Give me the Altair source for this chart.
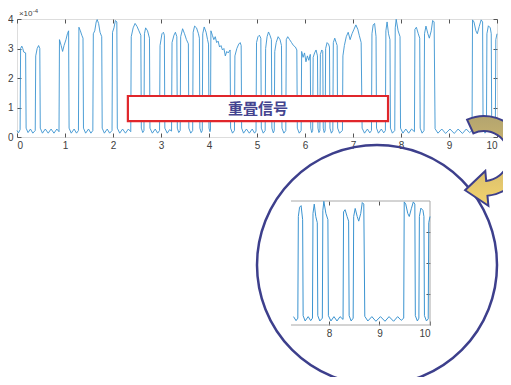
import altair as alt
import pandas as pd

# ---------------- data (signal in units of 1e-4) ----------------
trace_t = [
    0.00, 0.03, 0.065,
    0.075, 0.10, 0.12, 0.14, 0.18,
    0.19, 0.23, 0.28, 0.33, 0.38,
    0.39, 0.42, 0.45, 0.475,
    0.485, 0.53, 0.59, 0.65, 0.71, 0.77, 0.83, 0.875,
    0.885, 0.92, 0.95, 0.98, 1.02, 1.05, 1.075,
    1.085, 1.13, 1.19, 1.24, 1.28,
    1.29, 1.32, 1.35, 1.375,
    1.385, 1.43, 1.49, 1.54, 1.58,
    1.59, 1.62, 1.65, 1.67, 1.70, 1.73, 1.765,
    1.775, 1.82, 1.88, 1.93, 1.98,
    1.99, 2.02, 2.05, 2.08,
    2.09, 2.14, 2.20, 2.26, 2.32, 2.37,
    2.38, 2.42, 2.46, 2.50, 2.54, 2.58,
    2.59, 2.62, 2.645,
    2.655, 2.68, 2.72, 2.76,
    2.77, 2.82, 2.88, 2.93, 2.97,
    2.98, 3.02, 3.05, 3.07,
    3.08, 3.13, 3.18, 3.22,
    3.23, 3.27, 3.30, 3.33,
    3.34, 3.37, 3.40,
    3.41, 3.45, 3.49, 3.53, 3.57,
    3.58, 3.62, 3.66,
    3.67, 3.70, 3.74, 3.78, 3.80,
    3.81, 3.84, 3.86,
    3.87, 3.90, 3.94, 3.97, 3.99,
    4.00, 4.02, 4.03,
    4.04, 4.07, 4.10, 4.13, 4.16, 4.19, 4.22, 4.25, 4.28, 4.31, 4.34, 4.37, 4.40, 4.44,
    4.45, 4.49, 4.53,
    4.54, 4.58, 4.62, 4.65, 4.67,
    4.68, 4.72, 4.78, 4.84, 4.90, 4.95, 4.98,
    4.99, 5.02, 5.05, 5.08,
    5.09, 5.13, 5.17,
    5.18, 5.21, 5.24, 5.27, 5.30,
    5.31, 5.34, 5.36,
    5.37, 5.40, 5.44, 5.48, 5.51,
    5.52, 5.56, 5.60,
    5.61, 5.64, 5.68, 5.72, 5.76, 5.80, 5.83,
    5.84, 5.88, 5.92,
    5.93, 5.96, 5.99, 6.02, 6.05, 6.08, 6.11,
    6.12, 6.14, 6.16,
    6.17, 6.20, 6.23, 6.26,
    6.27, 6.29, 6.31,
    6.32, 6.35, 6.37,
    6.38, 6.40, 6.42,
    6.43, 6.46, 6.49, 6.51,
    6.52, 6.55, 6.58,
    6.59, 6.62, 6.65, 6.67,
    6.68, 6.72, 6.78,
    6.79, 6.82, 6.86, 6.90, 6.94, 6.98, 7.02, 7.06, 7.10, 7.13, 7.17,
    7.19, 7.24, 7.30, 7.35, 7.385,
    7.395, 7.42, 7.45, 7.48,
    7.49, 7.53, 7.59, 7.64, 7.675,
    7.685, 7.71, 7.74, 7.77,
    7.78, 7.82, 7.87,
    7.88, 7.90, 7.94, 7.98,
    7.99, 8.04, 8.10, 8.16, 8.22, 8.28,
    8.29, 8.32, 8.36, 8.39,
    8.40, 8.44, 8.48,
    8.49, 8.52, 8.56, 8.59, 8.63, 8.66, 8.69,
    8.71, 8.77, 8.85, 8.93, 9.02, 9.11, 9.19, 9.28, 9.36, 9.43, 9.48,
    9.49, 9.52, 9.56, 9.59, 9.63, 9.67, 9.70,
    9.71, 9.75, 9.78,
    9.79, 9.82, 9.86, 9.88,
    9.89, 9.93, 9.965,
    9.975, 10.0,
]
trace_v = [
    0.22, 0.14, 0.25,
    3.00, 3.08, 3.00, 2.88, 2.85,
    0.30, 0.15, 0.27, 0.13, 0.22,
    2.75, 3.00, 3.10, 3.00,
    0.30, 0.13, 0.27, 0.13, 0.27, 0.13, 0.27, 0.18,
    3.30, 3.10, 2.90, 3.10, 3.30, 3.50, 3.60,
    0.30, 0.13, 0.27, 0.13, 0.22,
    3.72, 3.60, 3.45, 3.35,
    0.30, 0.13, 0.27, 0.13, 0.22,
    3.50, 3.60, 3.90, 3.98, 3.85, 3.55, 3.40,
    0.30, 0.13, 0.27, 0.13, 0.22,
    3.55, 3.70, 3.95, 3.90,
    0.30, 0.13, 0.27, 0.13, 0.27, 0.18,
    3.40, 3.70, 3.85, 3.75, 3.60, 3.45,
    0.30, 0.15, 0.22,
    3.50, 3.70, 3.60, 3.35,
    0.30, 0.13, 0.27, 0.13, 0.22,
    3.10, 3.50, 3.55, 3.45,
    0.30, 0.13, 0.25, 0.20,
    3.20, 3.45, 3.55, 3.40,
    0.30, 0.15, 0.22,
    3.40, 3.67, 3.50, 3.30, 3.16,
    0.30, 0.13, 0.22,
    3.55, 3.76, 3.70, 3.50, 3.35,
    0.30, 0.15, 0.22,
    3.50, 3.73, 3.55, 3.30, 3.15,
    0.30, 0.18, 0.22,
    3.60, 3.45, 3.30, 3.40, 3.20, 3.25, 3.05, 3.10, 2.95, 3.00, 2.75, 2.90, 2.85, 2.95,
    0.30, 0.13, 0.22,
    2.75, 3.00, 3.15, 3.20, 3.10,
    0.30, 0.13, 0.27, 0.13, 0.27, 0.13, 0.20,
    3.20, 3.40, 3.45, 3.35,
    0.30, 0.13, 0.22,
    3.00, 3.40, 3.56, 3.45, 3.30,
    0.30, 0.14, 0.22,
    2.90, 3.20, 3.40, 3.30, 3.10,
    0.30, 0.13, 0.22,
    3.30, 3.40, 3.30, 3.20, 3.10, 3.05, 2.95,
    0.30, 0.13, 0.22,
    2.90, 2.70, 2.85, 2.55, 2.75, 2.60, 2.80,
    0.30, 0.15, 0.22,
    2.70, 2.85, 2.95, 2.75,
    0.30, 0.15, 0.22,
    2.80, 2.95, 2.90,
    0.30, 0.15, 0.22,
    3.00, 3.20, 3.15, 3.05,
    0.30, 0.13, 0.22,
    3.20, 3.35, 3.20, 3.10,
    0.30, 0.13, 0.22,
    2.75, 3.10, 3.40, 3.55, 3.30, 3.50, 3.65, 3.80, 3.65, 3.45, 3.20,
    0.30, 0.13, 0.27, 0.14, 0.22,
    3.50, 3.80, 3.85, 3.40,
    0.30, 0.13, 0.27, 0.14, 0.22,
    3.60, 3.90, 3.50, 3.30,
    0.30, 0.13, 0.22,
    3.70, 3.99, 3.60, 3.40,
    0.30, 0.13, 0.27, 0.13, 0.27, 0.18,
    3.65, 3.72, 3.50, 3.35,
    0.30, 0.13, 0.22,
    3.50, 3.76, 3.50, 3.35, 3.60, 3.95, 3.90,
    0.28, 0.13, 0.27, 0.12, 0.27, 0.12, 0.27, 0.12, 0.27, 0.15, 0.22,
    3.97, 3.90, 3.60, 3.50, 3.75, 3.97, 3.90,
    0.30, 0.13, 0.22,
    3.50, 3.77, 3.70, 3.50,
    0.30, 0.13, 0.20,
    3.30, 3.50,
]

x_ticks = [0, 1, 2, 3, 4, 5, 6, 7, 8, 9, 10]
y_ticks = [0, 1, 2, 3, 4]
inset_x_ticks = [8, 9, 10]
inset_top_ticks = [8, 9]
inset_y_ticks = [1, 2, 3]
inset_domain = [7.25, 10]

label_text = ["重畳信号"]
exponent_base = ["×10"]
exponent_power = ["-4"]

# annotation anchors, in data units of the main axes
box_corners = {"x0": [2.31], "x1": [7.73], "y0": [0.54], "y1": [1.39]}
label_anchor = {"x": [5.02], "y": [0.965]}
circle_anchor = {"x": [7.5], "y": [-4.339]}
arrow_anchor = {"x": [9.729], "y": [-0.78]}
exponent_anchor = {"base_x": [0.04], "power_x": [0.33], "y": [4]}

# ---------------- styling ----------------
W, H = 480, 118
LINE = "#3a93d0"
FRAME = "#a8a8a8"
NAVY = "#3d3f8c"
FONT = "Liberation Sans"

df = pd.DataFrame({"t": trace_t, "v": trace_v})
main_x = alt.Scale(domain=[0, 10], nice=False, zero=False)
main_y = alt.Scale(domain=[0, 4], nice=False)
inset_x = alt.Scale(domain=inset_domain, range=[274, 413], nice=False, zero=False)
inset_y = alt.Scale(domain=[0, 4], range=[306, 182], nice=False)

tick_common = dict(tickSize=4, domain=False, grid=False, tickColor="#555555",
                   labelFont=FONT, labelFontSize=10, labelColor="#404040", title=None)

main_line = alt.Chart(df).mark_line(color=LINE, strokeWidth=0.9).encode(
    x=alt.X("t:Q", scale=main_x,
            axis=alt.Axis(values=x_ticks, orient="bottom", offset=-4, labelPadding=3, **tick_common)),
    y=alt.Y("v:Q", scale=main_y,
            axis=alt.Axis(values=y_ticks, orient="left", offset=-4, labelPadding=4, **tick_common)),
)

dummy = pd.DataFrame({"t": [0, 10], "v": [0, 4]})
main_ticks2 = alt.Chart(dummy).mark_point(opacity=0).encode(
    x=alt.X("t:Q", scale=main_x,
            axis=alt.Axis(values=x_ticks, orient="top", offset=-4, labels=False, **tick_common)),
    y=alt.Y("v:Q", scale=main_y,
            axis=alt.Axis(values=y_ticks, orient="right", offset=-4, labels=False, **tick_common)),
)

exp_df = pd.DataFrame({**exponent_anchor, "b": exponent_base, "p": exponent_power})
exp_base = alt.Chart(exp_df).mark_text(
    align="left", baseline="bottom", dy=-1, font=FONT, fontSize=8, color="#404040"
).encode(x=alt.X("base_x:Q", scale=main_x, axis=None), y=alt.Y("y:Q", scale=main_y, axis=None), text="b:N")
exp_pow = alt.Chart(exp_df).mark_text(
    align="left", baseline="bottom", dy=-5, font=FONT, fontSize=6, color="#404040"
).encode(x=alt.X("power_x:Q", scale=main_x, axis=None), y=alt.Y("y:Q", scale=main_y, axis=None), text="p:N")

box = alt.Chart(pd.DataFrame(box_corners)).mark_rect(
    fill="white", stroke="#e0262b", strokeWidth=2.2
).encode(
    x=alt.X("x0:Q", scale=main_x, axis=None), x2="x1:Q",
    y=alt.Y("y0:Q", scale=main_y, axis=None), y2="y1:Q",
)
label = alt.Chart(pd.DataFrame({**label_anchor, "s": label_text})).mark_text(
    font="Noto Sans CJK JP", fontSize=15, fontWeight="bold", color="#44448f",
    align="center", baseline="middle"
).encode(x=alt.X("x:Q", scale=main_x, axis=None), y=alt.Y("y:Q", scale=main_y, axis=None), text="s:N")

circle = alt.Chart(pd.DataFrame(circle_anchor)).mark_point(
    shape="circle", size=57600, filled=False, stroke=NAVY, strokeWidth=2.5, opacity=1
).encode(x=alt.X("x:Q", scale=main_x, axis=None), y=alt.Y("y:Q", scale=main_y, axis=None))

arrow_path = ("M -0.338 -0.806 A 0.8 0.8 0 1 1 0.07 0.716 L 0.088 0.914 L -0.378 0.604 "
              "L 0.026 0.22 L 0.044 0.418 A 0.5 0.5 0 1 0 -0.212 -0.534 Z")
arrow = alt.Chart(pd.DataFrame(arrow_anchor)).mark_point(
    shape=arrow_path, size=10000, filled=True, opacity=1,
    fill=alt.Gradient(gradient="linear", x1=0, x2=0, y1=0, y2=1,
                      stops=[alt.GradientStop(color="#b3a46f", offset=0),
                             alt.GradientStop(color="#f4d36d", offset=1)]),
    stroke=NAVY, strokeWidth=2,
).encode(x=alt.X("x:Q", scale=main_x, axis=None), y=alt.Y("y:Q", scale=main_y, axis=None))

frame_df = pd.DataFrame({"x0": [7.25, 7.25, 10], "x1": [10, 10, 10], "y0": [4, 0, 0], "y1": [4, 0, 4]})
inset_frame = alt.Chart(frame_df).mark_rule(color=FRAME, strokeWidth=1).encode(
    x=alt.X("x0:Q", scale=inset_x, axis=None), x2="x1:Q",
    y=alt.Y("y0:Q", scale=inset_y, axis=None), y2="y1:Q",
)

inset_line = alt.Chart(df).transform_filter(alt.datum.t >= inset_domain[0]).mark_line(
    color=LINE, strokeWidth=1
).encode(
    x=alt.X("t:Q", scale=inset_x,
            axis=alt.Axis(values=inset_x_ticks, orient="bottom", offset=184, labelPadding=3, **tick_common)),
    y=alt.Y("v:Q", scale=inset_y,
            axis=alt.Axis(values=inset_y_ticks, orient="right", offset=-71, labels=False, **tick_common)),
)
inset_top = alt.Chart(pd.DataFrame({"t": inset_domain, "v": [0, 4]})).mark_point(opacity=0).encode(
    x=alt.X("t:Q", scale=inset_x,
            axis=alt.Axis(values=inset_top_ticks, orient="top", offset=-186, labels=False, **tick_common)),
    y=alt.Y("v:Q", scale=inset_y, axis=None),
)

chart = alt.layer(
    main_line, main_ticks2, exp_base, exp_pow, box, label,
    circle, inset_frame, inset_line, inset_top, arrow,
).resolve_scale(x="independent", y="independent").properties(
    width=W, height=H, autosize="none",
    padding={"left": 9, "top": 11, "right": 6, "bottom": 240},
).configure_view(stroke=FRAME, strokeWidth=1).configure(background="white")

chart.save("out.html", embed_options={"renderer": "svg", "actions": False})
